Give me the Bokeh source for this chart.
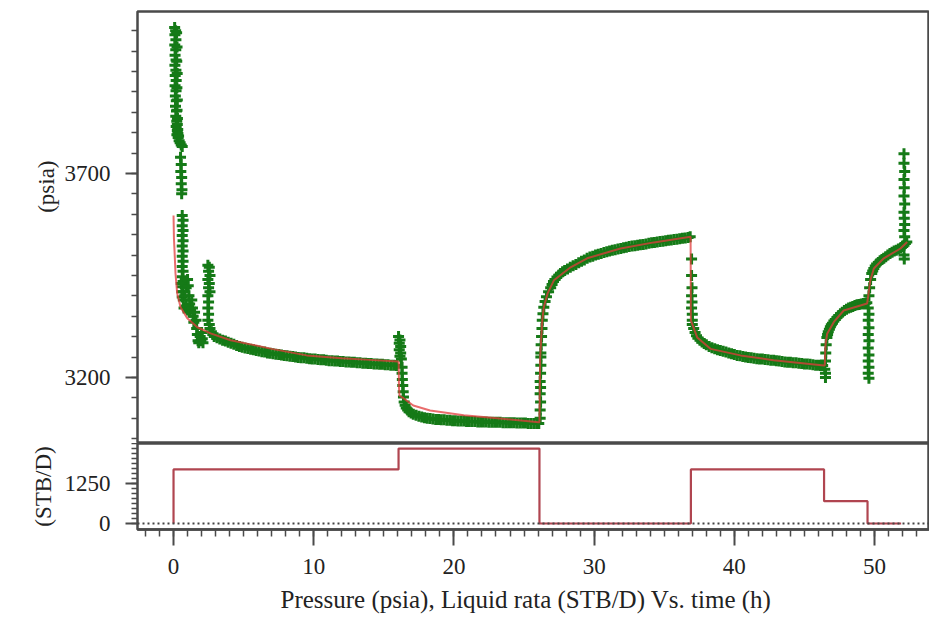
import math
from bokeh.plotting import figure
from bokeh.layouts import column
from bokeh.models import FixedTicker, Range1d, Span, Title
from bokeh.embed import file_html
from bokeh.resources import INLINE

# ---------------- data ----------------
# measured pressure (green +), time in hours, pressure in psia
spike0_t = [0.08, 0.15, 0.10, 0.17, 0.09, 0.16, 0.11, 0.18, 0.10, 0.17, 0.12, 0.19, 0.11, 0.18,
            0.13, 0.20, 0.14, 0.21, 0.16, 0.23, 0.19, 0.27, 0.24, 0.33, 0.40, 0.47, 0.55, 0.62,
            0.22, 0.25, 0.23, 0.26, 0.24, 0.27, 0.25, 0.28, 0.27, 0.30, 0.31, 0.36,
            0.50, 0.55, 0.52, 0.58, 0.55, 0.60, 0.58]
spike0_p = [4058, 4050, 4040, 4028, 4015, 4003, 3990, 3978, 3965, 3953, 3940, 3928, 3915, 3903,
            3890, 3878, 3865, 3853, 3840, 3828, 3815, 3805, 3795, 3788, 3780, 3775, 3770, 3766,
            4045, 4010, 3975, 3945, 3910, 3880, 3855, 3835, 3820, 3808, 3798, 3792,
            3740, 3722, 3705, 3690, 3675, 3660, 3650]
early_t = [0.62, 0.68, 0.62, 0.68, 0.62, 0.68, 0.62, 0.68, 0.62, 0.68, 0.62, 0.68, 0.62, 0.68, 0.62, 0.68, 0.62,
           0.55, 0.60, 0.70, 0.75, 0.80, 0.90, 1.00, 1.05, 1.10, 1.15, 1.20, 1.00, 0.90, 1.30, 1.35,
           1.40, 1.45, 1.50, 1.60, 1.65, 1.70, 1.75, 1.80, 1.90, 1.95, 2.00, 2.05, 2.10,
           2.45, 2.55, 2.50, 2.60, 2.45, 2.55, 2.50, 2.60, 2.45, 2.50, 2.45, 2.50, 2.45, 2.55, 2.60, 2.70, 2.80]
early_p = [3597, 3585, 3572, 3560, 3548, 3535, 3522, 3510, 3497, 3485, 3472, 3460, 3447, 3435, 3422, 3410, 3397,
           3430, 3410, 3390, 3370, 3400, 3420, 3440, 3425, 3400, 3380, 3360, 3365, 3375, 3390, 3370,
           3350, 3335, 3360, 3340, 3320, 3305, 3290, 3285, 3300, 3290, 3310, 3295, 3285,
           3475, 3470, 3460, 3450, 3440, 3430, 3420, 3410, 3400, 3385, 3370, 3355, 3340, 3330, 3320, 3312, 3305]
flow1_t = [2.9, 3.1, 3.3, 3.5, 3.7, 3.9, 4.1, 4.3, 4.5, 4.7, 4.9, 5.1, 5.3, 5.5, 5.7, 5.9, 6.1, 6.3, 6.5, 6.7,
           6.9, 7.1, 7.3, 7.5, 7.7, 7.9, 8.1, 8.3, 8.5, 8.7, 8.9, 9.1, 9.3, 9.5, 9.7, 9.9,
           10.1, 10.3, 10.5, 10.7, 10.9, 11.1, 11.3, 11.5, 11.7, 11.9, 12.1, 12.3, 12.5, 12.7, 12.9,
           13.1, 13.3, 13.5, 13.7, 13.9, 14.1, 14.3, 14.5, 14.7, 14.9, 15.1, 15.3, 15.5, 15.7, 15.9,
           16.05, 16.15, 16.10, 16.20, 16.10, 16.20, 16.15, 16.25]
flow1_p = [3300, 3297, 3294, 3291, 3289, 3286, 3284, 3281, 3278, 3276, 3274, 3272, 3271, 3269, 3268, 3266,
           3265, 3263, 3262, 3260, 3259, 3258, 3257, 3256, 3255, 3254, 3253, 3252, 3251, 3250, 3249, 3248,
           3248, 3247, 3246, 3245, 3245, 3244, 3243, 3243, 3242, 3241, 3241, 3240, 3240, 3239, 3239, 3238,
           3238, 3237, 3237, 3236, 3236, 3235, 3235, 3234, 3234, 3233, 3233, 3232, 3232, 3231, 3231, 3230,
           3230, 3229,
           3300, 3292, 3284, 3276, 3268, 3260, 3252, 3245]
flow2_t = [16.30, 16.30, 16.32, 16.35, 16.38, 16.40, 16.45, 16.52, 16.6, 16.7, 16.8, 16.95, 17.1, 17.3, 17.5,
           17.7, 17.9, 18.1, 18.3, 18.5, 18.7, 18.9, 19.1, 19.3, 19.5, 19.7, 19.9, 20.1, 20.3, 20.5, 20.7,
           20.9, 21.1, 21.3, 21.5, 21.7, 21.9, 22.1, 22.3, 22.5, 22.7, 22.9, 23.1, 23.3, 23.5, 23.7, 23.9,
           24.1, 24.3, 24.5, 24.7, 24.9, 25.1, 25.3, 25.5, 25.7, 25.9, 26.05]
flow2_p = [3225, 3210, 3195, 3180, 3165, 3152, 3140, 3132, 3125, 3120, 3116, 3113, 3110, 3107, 3105,
           3103, 3101, 3100, 3099, 3098, 3097, 3097, 3096, 3096, 3095, 3095, 3094, 3094, 3093, 3093, 3093,
           3092, 3092, 3092, 3092, 3091, 3091, 3091, 3091, 3090, 3090, 3090, 3090, 3090, 3089, 3089, 3089,
           3089, 3089, 3088, 3088, 3088, 3088, 3087, 3087, 3087, 3087, 3087]
bu1_t = [26.15, 26.15, 26.18, 26.15, 26.18, 26.15, 26.18, 26.20, 26.20,
         26.20, 26.22, 26.25, 26.28, 26.30, 26.35, 26.41, 26.5, 26.6, 26.75, 26.9, 27.0, 27.1, 27.2, 27.35,
         27.5, 27.6, 27.75, 27.9, 28.1, 28.3, 28.5, 28.7, 28.9, 29.1, 29.3, 29.5, 29.7, 29.9, 30.1, 30.3,
         30.5, 30.7, 30.9, 31.1, 31.3, 31.5, 31.7, 31.9, 32.1, 32.3, 32.5, 32.7, 32.9, 33.1, 33.3, 33.5,
         33.7, 33.9, 34.1, 34.3, 34.5, 34.7, 34.9, 35.1, 35.3, 35.5, 35.7, 35.9, 36.1, 36.3, 36.5, 36.7, 36.85]
bu1_p = [3100, 3120, 3140, 3160, 3175, 3190, 3210, 3230, 3250,
         3260, 3280, 3300, 3320, 3340, 3356, 3372, 3386, 3398, 3410, 3420, 3428, 3435, 3440, 3446,
         3451, 3455, 3459, 3462, 3466, 3470, 3474, 3477, 3481, 3485, 3488, 3492, 3495, 3497, 3500, 3502,
         3504, 3506, 3508, 3510, 3512, 3513, 3515, 3516, 3518, 3519, 3521, 3522, 3523, 3524, 3525, 3526,
         3527, 3529, 3530, 3531, 3532, 3533, 3534, 3535, 3536, 3537, 3538, 3539, 3540, 3541, 3542, 3543, 3545]
flow3_t = [36.95, 36.95, 36.98, 36.95, 36.98, 36.95, 37.0, 37.0, 37.0, 37.1, 37.2, 37.3, 37.4, 37.55, 37.7,
           37.85, 38.0, 38.2, 38.4, 38.6, 38.8, 39.0, 39.2, 39.4, 39.6, 39.8, 40.0, 40.2, 40.4, 40.6, 40.8,
           41.0, 41.2, 41.4, 41.6, 41.8, 42.0, 42.2, 42.4, 42.6, 42.8, 43.0, 43.2, 43.4, 43.6, 43.8, 44.0,
           44.2, 44.4, 44.6, 44.8, 45.0, 45.2, 45.4, 45.6, 45.8, 46.0, 46.15, 46.3, 46.45, 46.5, 46.5]
flow3_p = [3490, 3450, 3420, 3400, 3385, 3370, 3355, 3340, 3330, 3320, 3310, 3302, 3296, 3291, 3287,
           3283, 3280, 3276, 3273, 3270, 3268, 3266, 3264, 3262, 3260, 3258, 3256, 3254, 3253, 3251, 3250,
           3249, 3248, 3247, 3246, 3245, 3245, 3244, 3243, 3242, 3242, 3241, 3240, 3239, 3238, 3237, 3237,
           3236, 3236, 3235, 3234, 3233, 3233, 3232, 3231, 3230, 3230, 3229, 3229, 3220, 3210, 3200]
flow4_t = [46.5, 46.52, 46.55, 46.6, 46.65, 46.7, 46.78, 46.85, 46.92, 47.0, 47.1, 47.2, 47.32, 47.45, 47.57,
           47.7, 47.85, 48.0, 48.15, 48.3, 48.45, 48.6, 48.75, 48.9, 49.05, 49.2, 49.35, 49.45,
           49.55, 49.6, 49.55, 49.6, 49.55, 49.6, 49.55, 49.6, 49.55, 49.6, 49.55, 49.6]
flow4_p = [3240, 3260, 3280, 3298, 3305, 3312, 3318, 3324, 3329, 3333, 3338, 3342, 3347, 3352, 3356,
           3360, 3364, 3367, 3370, 3372, 3374, 3376, 3378, 3379, 3380, 3381, 3382, 3383,
           3370, 3355, 3340, 3322, 3305, 3290, 3272, 3255, 3240, 3225, 3210, 3198]
bu2_t = [49.6, 49.65, 49.72, 49.8, 49.87, 49.95, 50.05, 50.15, 50.27, 50.4, 50.53, 50.66, 50.8, 50.95, 51.1,
         51.25, 51.4, 51.55, 51.7, 51.85, 52.0, 52.1, 52.2, 52.3,
         52.1, 52.1, 52.15, 52.1, 52.12, 52.1, 52.15, 52.1, 52.12, 52.15, 52.1, 52.15, 52.1, 52.12]
bu2_p = [3400, 3420, 3440, 3455, 3461, 3467, 3473, 3478, 3482, 3486, 3489, 3492, 3496, 3500, 3504,
         3507, 3510, 3512, 3515, 3517, 3521, 3524, 3528, 3532,
         3748, 3725, 3705, 3685, 3665, 3645, 3625, 3605, 3590, 3575, 3560, 3545, 3500, 3490]

# simulated pressure (red line)
model_t = [0.0, 0.03, 0.07, 0.14, 0.26, 0.5, 0.98, 1.7, 2.64, 4.07, 5.5, 7.0, 9.5, 12.0, 14.0, 16.0,
           16.06, 16.08, 16.12, 16.4, 17.1, 18.3, 20.7, 23.1, 26.05,
           26.1, 26.15, 26.2, 26.25, 26.3, 26.41, 26.68, 27.13, 28.32, 29.5, 31.88, 34.26, 36.88,
           36.9, 37.35, 38.3, 40.44, 42.8, 46.4,
           46.45, 46.5, 46.62, 47.1, 47.8, 49.47, 49.55, 49.7, 49.95, 50.66, 51.85, 52.33]
model_p = [3597, 3540, 3511, 3455, 3406, 3372, 3345, 3323, 3308, 3291, 3281, 3270, 3254, 3247, 3243, 3239,
           3237, 3175, 3155, 3149, 3131, 3119, 3107, 3100, 3090,
           3090, 3250, 3280, 3310, 3340, 3372, 3406, 3438, 3470, 3492, 3516, 3531, 3545,
           3340, 3298, 3270, 3254, 3242, 3229,
           3229, 3280, 3307, 3336, 3364, 3381, 3400, 3438, 3467, 3492, 3516, 3532]

# liquid rate (STB/D) history
rate_t = [0, 0, 16.05, 26.1, 36.9, 46.4, 49.5, 51.9]
rate_q = [0, 1690, 2340, 0, 1690, 697, 0, 0]

# axis ticks
p_ticks = [3200, 3700]
p_minor = list(range(3050, 4101, 50))
q_ticks = [0, 1250]
q_minor = [i * 156.25 for i in range(0, 17)]
t_ticks = [0, 10, 20, 30, 40, 50]
t_minor = list(range(-2, 54))

green_t = spike0_t + early_t + flow1_t + flow2_t + bu1_t + flow3_t + flow4_t + bu2_t
green_p = spike0_p + early_p + flow1_p + flow2_p + bu1_p + flow3_p + flow4_p + bu2_p

# ---------------- styling ----------------
FONT = "Liberation Serif"
FRAME = "#4a4a4a"
TXT = "#222222"

x_range = Range1d(-2.57, 53.92)

top = figure(width=929, height=443, x_range=x_range, y_range=Range1d(3038, 4097),
             x_axis_location=None, toolbar_location=None, output_backend="svg",
             min_border_left=137, min_border_right=0, min_border_top=11, min_border_bottom=0)
bot = figure(width=929, height=180, x_range=x_range, y_range=Range1d(-187.5, 2500),
             toolbar_location=None, output_backend="svg",
             min_border_left=137, min_border_right=0, min_border_top=0, min_border_bottom=94)

for f in (top, bot):
    f.grid.visible = False
    f.outline_line_color = FRAME
    f.outline_line_width = 2.5
    f.background_fill_color = "white"
    f.border_fill_color = "white"
    ax = f.yaxis[0]
    ax.axis_line_color = None
    ax.major_tick_in = 0
    ax.major_tick_out = 12
    ax.minor_tick_in = 0
    ax.minor_tick_out = 6
    ax.major_tick_line_color = FRAME
    ax.major_tick_line_width = 2
    ax.minor_tick_line_color = FRAME
    ax.minor_tick_line_width = 1.5
    ax.major_label_text_font = FONT
    ax.major_label_text_font_size = "23px"
    ax.major_label_text_color = TXT
    ax.major_label_standoff = 15

top.yaxis[0].ticker = FixedTicker(ticks=p_ticks, minor_ticks=p_minor)
bot.yaxis[0].ticker = FixedTicker(ticks=q_ticks, minor_ticks=q_minor)
bot.yaxis[0].axis_label = "(STB/D)"
bot.yaxis[0].axis_label_text_font = FONT
bot.yaxis[0].axis_label_text_font_style = "normal"
bot.yaxis[0].axis_label_text_font_size = "23px"
bot.yaxis[0].axis_label_text_color = TXT
bot.yaxis[0].axis_label_standoff = 6

xa = bot.xaxis[0]
xa.ticker = FixedTicker(ticks=t_ticks, minor_ticks=t_minor)
xa.axis_line_color = FRAME
xa.axis_line_width = 2.5
xa.major_tick_in = 0
xa.major_tick_out = 16
xa.minor_tick_in = 0
xa.minor_tick_out = 7
xa.major_tick_line_color = FRAME
xa.major_tick_line_width = 2
xa.minor_tick_line_color = FRAME
xa.minor_tick_line_width = 1.5
xa.major_label_text_font = FONT
xa.major_label_text_font_size = "23px"
xa.major_label_text_color = TXT
xa.major_label_standoff = 13

bot.add_layout(Title(text="Pressure (psia), Liquid rata (STB/D) Vs. time (h)", align="left",
                     offset=143, standoff=15, text_font=FONT, text_font_size="25px",
                     text_font_style="normal", text_color=TXT), "below")

top.add_layout(Title(text="(psia)", align="right", offset=149, standoff=6,
                     text_font=FONT, text_font_size="23px", text_font_style="normal",
                     text_color=TXT), "left")

# ---------------- glyphs ----------------
top.scatter(green_t, green_p, marker="cross", size=11, line_width=3, line_color="#157a17")
top.line(model_t, model_p, line_color="#e23c3c", line_width=2, line_alpha=0.75)

bot.add_layout(Span(location=0, dimension="width", line_color="#444444", line_width=2,
                    line_dash="2 3"))
bot.step(rate_t, rate_q, mode="after", line_color="#b04550", line_width=2.2)

layout = column(top, bot, spacing=0)
open("out.html", "w").write(file_html(layout, INLINE))
